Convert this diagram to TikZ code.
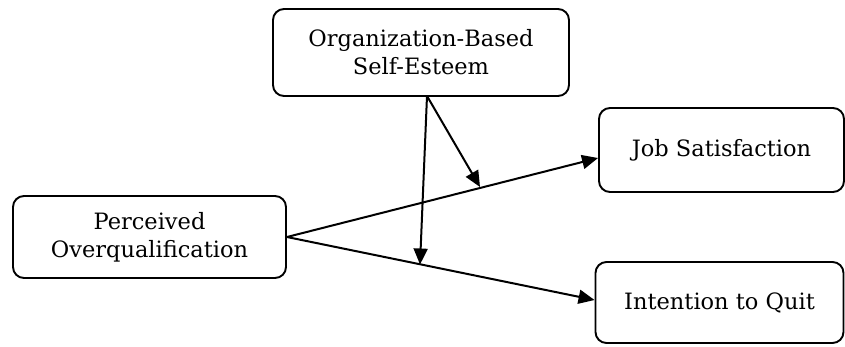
\documentclass[tikz,border=0pt]{standalone}
\usepackage{fontspec}
\setmainfont{DejaVu Serif}
\usetikzlibrary{arrows.meta}
\tikzset{
  box/.style={draw, line width=1.9pt, rounded corners=11pt, align=center, inner sep=0pt,
    font=\fontsize{22.5}{28}\selectfont},
  conn/.style={line width=2pt, -{Triangle[length=16pt,width=14pt]}},
}
\begin{document}
\begin{tikzpicture}[x=1pt,y=-1pt]
\useasboundingbox (0,0) rectangle (845,346);
\node[box, minimum width=296pt, minimum height=87pt] (obse) at (421,52.5) {Organization-Based\\Self-Esteem};
\node[box, minimum width=273pt, minimum height=82pt] (po) at (149.5,237) {Perceived\\Overqualification};
\node[box, minimum width=245pt, minimum height=84pt] (js) at (721.5,150) {Job Satisfaction};
\node[box, minimum width=248pt, minimum height=81pt] (iq) at (719.5,302.5) {Intention to Quit};
\coordinate (src) at (427,96);
\coordinate (m1) at (480,187);
\coordinate (m2) at (420,264.5);
\draw[conn] (po.east) -- (js.west |- 0,158);
\draw[conn] (po.east) -- (iq.west |- 0,300);
\draw[conn] (src) -- (m1);
\draw[conn] (src) -- (m2);
\end{tikzpicture}
\end{document}
